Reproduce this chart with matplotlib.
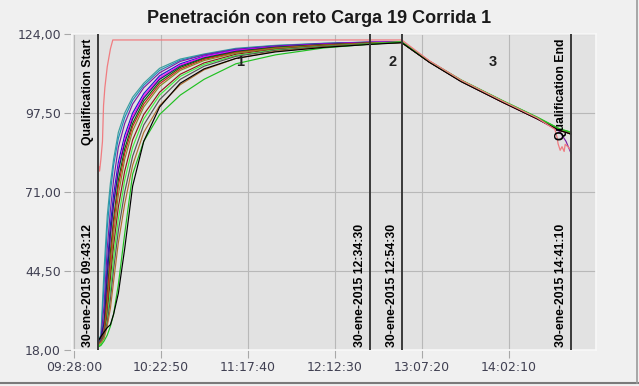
import numpy as np
import pandas as pd
import matplotlib
matplotlib.use('Agg')
import matplotlib.pyplot as plt
import matplotlib.dates as mdates
from matplotlib.lines import Line2D

# Penetration vs time, 15 probes + the fast (pink) reference probe
DAY = '2015-01-30 '

rise_times = ['09:43:12', '09:45:00', '09:47:00', '09:49:00', '09:51:00', '09:53:00',
              '09:56:00', '10:00:00', '10:05:00', '10:12:00', '10:22:00', '10:35:00',
              '10:50:00', '11:10:00', '11:35:00', '12:05:00', '12:34:30']
hold_times = ['12:54:30', '13:12:00', '13:32:00', '13:58:00', '14:20:00', '14:34:00',
              '14:38:00', '14:41:10']

teal = [21.0, 23.0, 45.0, 63.0, 74.0, 82.0, 91.0, 97.5, 102.8, 107.5, 112.5, 115.6, 117.3, 119.2, 120.2, 120.9, 121.3,
        121.4, 114.8, 108.4, 101.5, 95.9, 92.0, 91.4, 90.9]
cyan = [20.5, 22.0, 40.0, 59.0, 71.0, 80.0, 89.0, 96.0, 101.8, 106.8, 111.8, 115.2, 117.1, 119.0, 120.1, 120.8, 121.2,
        121.3, 114.7, 108.3, 101.4, 95.8, 91.9, 91.3, 90.7]
purple = [21.0, 22.0, 33.0, 52.0, 65.0, 75.0, 86.0, 94.0, 100.5, 106.0, 111.0, 114.8, 117.0, 118.9, 120.0, 120.8, 121.3,
          121.3, 114.6, 108.2, 101.2, 95.5, 91.3, 88.0, 84.0]
blue = [20.0, 21.0, 28.0, 46.0, 60.0, 70.0, 81.0, 90.0, 97.5, 104.0, 110.0, 114.0, 116.6, 118.6, 119.8, 120.7, 121.2,
        121.3, 114.7, 108.3, 101.3, 95.7, 91.8, 91.2, 90.6]
magenta = [20.0, 21.0, 26.0, 42.0, 56.0, 67.0, 79.0, 88.5, 96.5, 103.2, 109.3, 113.6, 116.4, 118.5, 119.7, 120.6, 121.2,
           121.4, 114.9, 108.5, 101.6, 96.0, 92.1, 91.5, 91.0]
navy = [21.0, 22.0, 27.0, 43.0, 57.0, 67.0, 78.0, 87.5, 95.5, 102.5, 108.8, 113.2, 116.0, 118.2, 119.6, 120.5, 121.1,
        121.2, 114.6, 108.2, 101.3, 95.6, 91.7, 91.1, 90.5]
darkgreen = [20.0, 21.0, 24.5, 37.0, 51.0, 62.0, 75.0, 85.5, 94.0, 101.5, 108.0, 112.8, 115.8, 118.0, 119.5, 120.4, 121.0,
             121.3, 114.7, 108.4, 101.5, 95.9, 92.0, 91.4, 90.8]
red = [20.0, 21.0, 24.0, 35.0, 48.0, 60.0, 73.0, 84.0, 93.0, 100.5, 107.3, 112.3, 115.5, 117.8, 119.3, 120.3, 121.0,
       121.2, 114.6, 108.1, 101.1, 95.5, 91.6, 91.0, 90.4]
olive = [19.5, 20.5, 23.0, 32.0, 45.0, 57.0, 70.0, 82.0, 91.5, 99.5, 106.5, 111.8, 115.1, 117.6, 119.2, 120.2, 120.9,
         121.2, 114.7, 108.3, 101.4, 95.8, 91.9, 91.3, 90.7]
brown = [20.0, 21.0, 23.0, 30.0, 42.0, 53.0, 66.0, 78.0, 88.5, 97.0, 104.5, 110.5, 114.3, 117.2, 118.9, 120.1, 120.8,
         121.1, 114.5, 108.1, 101.2, 95.6, 91.7, 91.1, 90.5]
lime = [19.0, 20.0, 22.0, 28.0, 38.0, 49.0, 62.0, 75.0, 86.0, 95.5, 103.5, 109.8, 113.8, 116.8, 118.7, 119.9, 120.8,
        121.4, 114.9, 108.6, 101.7, 96.1, 92.2, 91.6, 91.1]
gray = [20.5, 21.0, 23.0, 27.0, 35.0, 45.0, 58.0, 71.0, 83.0, 93.5, 102.0, 108.8, 113.2, 116.5, 118.5, 119.8, 120.7,
        121.1, 114.6, 108.2, 101.3, 95.7, 91.8, 91.2, 90.6]
tan = [20.0, 20.5, 22.0, 26.0, 32.0, 41.0, 54.0, 67.0, 80.0, 91.0, 100.0, 107.0, 112.0, 115.8, 118.2, 119.6, 120.6,
       121.2, 114.7, 108.3, 101.4, 95.8, 91.9, 91.3, 90.8]
green = [19.0, 19.5, 21.0, 23.0, 26.0, 30.0, 40.0, 57.0, 77.0, 88.0, 97.0, 103.5, 108.8, 114.0, 117.0, 119.3, 120.6,
         121.3, 114.8, 108.5, 101.6, 96.0, 92.1, 91.5, 91.0]
black = [21.0, 22.5, 24.0, 25.5, 26.5, 30.0, 37.0, 52.0, 73.0, 88.0, 99.5, 107.5, 112.3, 115.8, 118.0, 119.5, 120.5,
         121.1, 114.5, 108.0, 101.1, 95.5, 91.6, 91.0, 90.4]

pink_times = ['09:43:40', '09:44:10', '09:45:00', '09:46:00', '09:46:40', '09:47:30', '09:49:00',
              '09:51:00', '09:52:30', '12:54:30', '13:12:00', '13:32:00', '13:58:00', '14:20:00',
              '14:31:00', '14:32:30', '14:33:00', '14:34:20', '14:35:30', '14:36:50', '14:37:30',
              '14:40:00', '14:41:10']
pink = [79.5, 78.0, 82.0, 88.0, 100.0, 106.0, 113.0, 119.0, 122.0, 122.0, 115.0, 108.5, 101.5, 95.8,
        92.0, 89.0, 87.2, 85.0, 86.2, 84.6, 87.0, 85.8, 84.8]

probes = [(teal, '#3a9e9e'), (cyan, '#1f8fb8'), (purple, '#7b1fa2'), (blue, '#1a1acc'),
          (magenta, '#ff00ff'), (navy, '#202070'), (darkgreen, '#007000'), (red, '#cc2020'),
          (olive, '#8a8a20'), (brown, '#8b1a1a'), (lime, '#40f040'), (gray, '#555555'),
          (tan, '#b07030'), (green, '#20c020'), (black, '#000000')]

marker_times = ['09:43:12', '12:34:30', '12:54:30', '14:41:10']
marker_names = ['Qualification Start', '', '', 'Qualification End']
stage_labels = ['1', '2', '3']
stage_times = ['11:12:40', '12:49:00', '13:52:00']

y_ticks = [18.0, 44.5, 71.0, 97.5, 124.0]
x_ticks = ['09:28:00', '10:22:50', '11:17:40', '12:12:30', '13:07:20', '14:02:10']


def to_dt(times):
    return pd.to_datetime([DAY + t for t in times])


plt.rcParams['font.family'] = ['DejaVu Sans']

fig = plt.figure(figsize=(6.39, 3.86), dpi=100, facecolor='#f0f0f0')
ax = fig.add_axes([72 / 639, 36 / 386, 524 / 639, 316 / 386])
ax.set_facecolor('#e2e2e2')

t_probe = to_dt(rise_times + hold_times)
for vals, col in probes:
    ax.plot(t_probe, vals, color=col, lw=0.85)
ax.plot(to_dt(pink_times), pink, color='#f07c80', lw=0.9)

for t, name in zip(to_dt(marker_times), marker_names):
    ax.axvline(t, color='#3a3a3a', lw=1.4, zorder=5)
    if name:
        ax.annotate(name, xy=(t, 1), xycoords=('data', 'axes fraction'),
                    xytext=(-3, -3), textcoords='offset points', rotation=90,
                    ha='right', va='top', fontsize=8.8, fontweight='bold',
                    family='Liberation Sans', zorder=6)
    ax.annotate('30-ene-2015 ' + t.strftime('%H:%M:%S'), xy=(t, 0),
                xycoords=('data', 'axes fraction'), xytext=(-3, 2),
                textcoords='offset points', rotation=90, ha='right', va='bottom',
                fontsize=8.8, fontweight='bold', family='Liberation Sans', zorder=6)

for lab, t in zip(stage_labels, to_dt(stage_times)):
    ax.text(t, 114.7, lab, ha='center', va='center', fontsize=10.5,
            color='#202020', family='Liberation Sans', fontweight='bold')

ax.set_ylim(18, 124)
ax.set_yticks(y_ticks)
ax.set_yticklabels([f'{v:.2f}'.replace('.', ',') for v in y_ticks])
ax.set_xlim(pd.Timestamp(DAY + '09:26:48'), pd.Timestamp(DAY + '14:56:54'))
ax.set_xticks(to_dt(x_ticks))
ax.xaxis.set_major_formatter(mdates.DateFormatter('%H:%M:%S'))

ax.grid(True, color='#b8b8b8', lw=0.8)
ax.set_axisbelow(True)
ax.tick_params(length=6, color='#a8a8a8', width=0.8, labelsize=9,
               labelcolor='#404052', pad=2)
for sp in ax.spines.values():
    sp.set_color('#f8f8f8')
    sp.set_linewidth(1.2)

fig.text(0.5, 0.953, 'Penetración con reto Carga 19 Corrida 1', ha='center', va='center',
         fontsize=13, fontweight='bold', family='Liberation Sans', color='#1a1a1a')

# window frame
fig.add_artist(Line2D([0, 1], [3 / 386, 3 / 386], color='#7a7a7a', lw=1.5,
                      transform=fig.transFigure))
fig.add_artist(Line2D([636.5 / 639, 636.5 / 639], [3 / 386, 1], color='#9a9a9a', lw=1.2,
                      transform=fig.transFigure))

fig.savefig('out.png', dpi=100, facecolor=fig.get_facecolor())
